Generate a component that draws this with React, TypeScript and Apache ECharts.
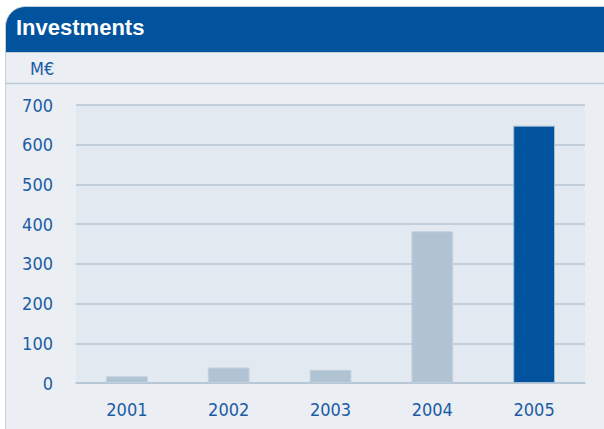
import React, { useEffect, useRef } from "react";
import * as echarts from "echarts";

const categories = ["2001", "2002", "2003", "2004", "2005"];
const values = [17, 39, 33, 382, 648];
const highlightIndex = 4;
const yTicks = [0, 100, 200, 300, 400, 500, 600, 700];
const title = "Investments";
const unit = "M€";

const BLUE = "#00539c";
const GRAY_BAR = "#b0c3d3";
const TEXT = "#1c5ca5";
const NARROW = "Liberation Sans Narrow, Arial Narrow, DejaVu Sans Condensed, sans-serif";

export default function App() {
  const ref = useRef<HTMLDivElement>(null);
  useEffect(() => {
    document.body.style.margin = "0";
    const chart = echarts.init(ref.current!, null, { renderer: "svg" });
    chart.setOption({
      animation: false,
      backgroundColor: "#ffffff",
      graphic: [
        { type: "rect", z: -10, shape: { x: 5.5, y: 30, width: 610, height: 420 }, style: { fill: "#ebeef3", stroke: "#c6ced8", lineWidth: 1 } },
        { type: "rect", z: -5, shape: { x: 5.5, y: 6.5, width: 610, height: 46, r: [20, 0, 0, 0] }, style: { fill: BLUE, stroke: "#c6ced8", lineWidth: 1 } },
        { type: "line", z: -5, shape: { x1: 6, y1: 83.5, x2: 604, y2: 83.5 }, style: { stroke: "#bccad8", lineWidth: 1.5 } },
        { type: "text", left: 16, top: 16, style: { text: title, fill: "#ffffff", fontSize: 22, fontWeight: "bold", fontFamily: "Liberation Sans, Arial, sans-serif" } },
        { type: "text", left: 30, top: 59, style: { text: unit, fill: TEXT, fontSize: 18, fontFamily: NARROW } },
      ],
      grid: {
        left: 76, right: 19, top: 105, bottom: 46,
        show: true, backgroundColor: "#e3e9f0", borderWidth: 0,
      },
      xAxis: {
        type: "category",
        data: categories,
        axisLine: { show: true, lineStyle: { color: "#b5c5d5", width: 1.5 } },
        axisTick: { show: false },
        axisLabel: { color: TEXT, fontSize: 18, fontFamily: NARROW, margin: 17 },
      },
      yAxis: {
        type: "value",
        min: yTicks[0],
        max: yTicks[yTicks.length - 1],
        interval: 100,
        axisLine: { show: false },
        axisTick: { show: false },
        axisLabel: { color: TEXT, fontSize: 18, fontFamily: NARROW, margin: 23 },
        splitLine: { lineStyle: { color: "#b5c5d5", width: 1.5 } },
      },
      series: [
        {
          type: "bar",
          barWidth: "41%",
          data: values.map((v, i) => ({
            value: v,
            itemStyle: i === highlightIndex
              ? { color: BLUE, borderColor: "#a9bccf", borderWidth: 1 }
              : { color: GRAY_BAR, borderColor: "#c3d1dd", borderWidth: 1 },
          })),
        },
      ],
    });
    return () => chart.dispose();
  }, []);
  return <div ref={ref} style={{ width: 604, height: 429 }} />;
}
